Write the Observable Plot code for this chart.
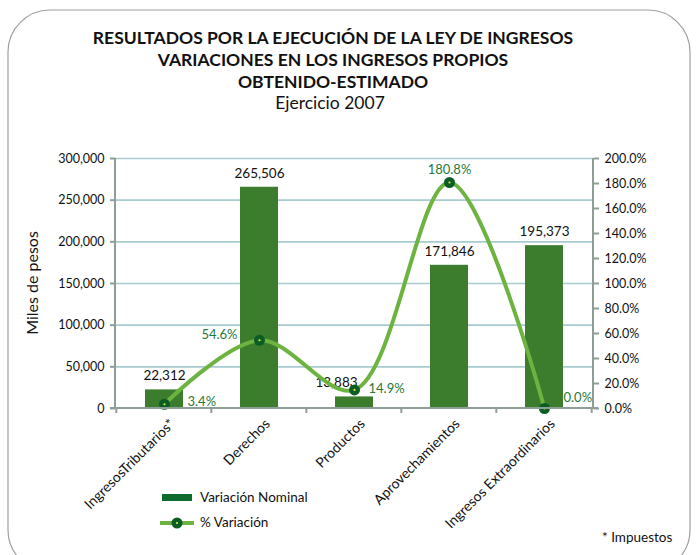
<!DOCTYPE html>
<html><head><meta charset="utf-8">
<script src="https://cdn.jsdelivr.net/npm/d3@7"></script>
<script src="https://cdn.jsdelivr.net/npm/@observablehq/plot@0.6"></script>
<style>html,body{margin:0;padding:0;background:#fff}svg{display:block}</style>
</head><body><div id="chart"></div>
<script>
// ---- data ----
const categories = ["IngresosTributarios*", "Derechos", "Productos", "Aprovechamientos", "Ingresos Extraordinarios"];
const nominal = [22312, 265506, 13883, 171846, 195373];
const pctVariation = [3.4, 54.6, 14.9, 180.8, 0.0];
const leftTicks = [0, 50000, 100000, 150000, 200000, 250000, 300000];
const rightTicks = [0, 20, 40, 60, 80, 100, 120, 140, 160, 180, 200];
const titleLines = ["RESULTADOS POR LA EJECUCIÓN DE LA LEY DE INGRESOS", "VARIACIONES EN LOS INGRESOS PROPIOS", "OBTENIDO-ESTIMADO"];
const subtitle = "Ejercicio 2007";
const yLabel = "Miles de pesos";
const legendLabels = ["Variación Nominal", "% Variación"];
const footnote = "* Impuestos";

// ---- label placement (style, not data) ----
const pctLabelDx = [23, -22, 14, 0, 19];
const pctLabelDy = [-2, -5, -1, -13, -11];
const pctLabelAnchor = ["start", "end", "start", "middle", "start"];
const nomLabelDx = [0, 0, -18, 0, 0];

const PCT_TO_Y = 300000 / 200; // right axis 0–200% maps onto left 0–300,000
const data = categories.map((c, i) => ({cat: c, nominal: nominal[i], pct: pctVariation[i], i}));

const FONT = "Lato, 'Open Sans', sans-serif";
const barColor = "#3b7d2c";
const lineColor = "#6db33f";
const dotColor = "#0b5e23";
const centerColor = "#e6e64c";
const pctColor = "#27783a";
const axisColor = "#8e9e96";
const gridColor = "#a6cbd1";
const fmt = d3.format(",");

const plot = Plot.plot({
  width: 696, height: 555,
  marginLeft: 115, marginRight: 103, marginTop: 158, marginBottom: 147,
  style: {fontFamily: FONT, fontSize: "12.5px", color: "#111", background: "transparent"},
  x: {domain: categories, paddingInner: 0.6, paddingOuter: 0.3, axis: null},
  y: {domain: [0, 300000], axis: null},
  marks: [
    Plot.gridY(leftTicks.slice(1), {stroke: gridColor, strokeWidth: 1.6, strokeOpacity: 1}),
    Plot.barY(data, {x: "cat", y: "nominal", fill: barColor}),
    ...data.map(d => Plot.text([d], {x: "cat", y: "nominal", text: d => fmt(d.nominal), dy: -14, dx: nomLabelDx[d.i], fill: "#111", fontSize: 13.5})),
    Plot.line(data, {x: "cat", y: d => d.pct * PCT_TO_Y, curve: "catmull-rom", stroke: lineColor, strokeWidth: 4}),
    Plot.dot(data, {x: "cat", y: d => d.pct * PCT_TO_Y, r: 5.5, fill: dotColor, stroke: null}),
    Plot.dot(data, {x: "cat", y: d => d.pct * PCT_TO_Y, r: 1.1, fill: centerColor, stroke: null}),
    ...data.map(d => Plot.text([d], {x: "cat", y: d => d.pct * PCT_TO_Y, text: d => d.pct.toFixed(1) + "%",
      dx: pctLabelDx[d.i], dy: pctLabelDy[d.i], textAnchor: pctLabelAnchor[d.i], fill: pctColor, fontSize: 13})),
    Plot.axisY({ticks: leftTicks, anchor: "left", tickFormat: fmt, tickSize: 5, tickPadding: 6, stroke: axisColor, strokeWidth: 2, fill: "#111", fontSize: 12.5, label: null}),
    Plot.axisY({ticks: rightTicks.map(v => v * PCT_TO_Y), anchor: "right", tickFormat: d => (d / PCT_TO_Y).toFixed(1) + "%", tickSize: 5, tickPadding: 6, stroke: axisColor, strokeWidth: 2, fill: "#111", fontSize: 12.5, label: null}),
    Plot.text(categories, {x: d => d, frameAnchor: "bottom", rotate: -45, textAnchor: "end", lineAnchor: "middle", dx: 8, dy: 13, fill: "#111", fontSize: 14})
  ]
});

const svg = d3.select(plot);
const xs = plot.scale("x");
const ys = plot.scale("y");
const x0 = 115, x1 = 696 - 103, yb = 555 - 147;
const step = (x1 - x0) / categories.length;

// axis lines
const g = svg.append("g").attr("stroke", axisColor).attr("stroke-width", 2);
g.append("line").attr("x1", x0).attr("x2", x0).attr("y1", ys.apply(300000)).attr("y2", ys.apply(0));
g.append("line").attr("x1", x1).attr("x2", x1).attr("y1", ys.apply(300000)).attr("y2", ys.apply(0));
g.append("line").attr("x1", x0 - 5).attr("x2", x1 + 5).attr("y1", ys.apply(0)).attr("y2", ys.apply(0));
// category boundary ticks
for (let i = 0; i <= categories.length; i++) {
  const xb = i < categories.length ? xs.apply(categories[i]) - step * 0.3 : xs.apply(categories[i - 1]) + xs.bandwidth + step * 0.3;
  g.append("line").attr("x1", xb).attr("x2", xb).attr("y1", yb).attr("y2", yb + 5);
}

// border
svg.insert("rect", ":first-child").attr("x", 8).attr("y", 10).attr("width", 682).attr("height", 562)
  .attr("rx", 42).attr("fill", "none").attr("stroke", "#a0a0a0").attr("stroke-width", 1.2);

// titles
const t = svg.append("g").attr("font-family", FONT).attr("text-anchor", "middle").attr("fill", "#111");
titleLines.forEach((s, i) => t.append("text").attr("x", 333).attr("y", 44 + i * 22).attr("font-size", 17.5).attr("font-weight", "bold").text(s));
t.append("text").attr("x", 330).attr("y", 109).attr("font-size", 17.5).text(subtitle);

// y label
svg.append("text").attr("transform", "translate(38,283) rotate(-90)").attr("text-anchor", "middle")
  .attr("font-family", FONT).attr("font-size", 16).attr("fill", "#111").text(yLabel);

// legend
const L = svg.append("g").attr("font-family", FONT).attr("font-size", 13.5).attr("fill", "#111").attr("text-anchor", "start");
L.append("rect").attr("x", 162).attr("y", 494).attr("width", 30).attr("height", 7).attr("fill", "#0d6b2e");
L.append("text").attr("x", 200).attr("y", 502).text(legendLabels[0]);
L.append("line").attr("x1", 160).attr("x2", 194).attr("y1", 523).attr("y2", 523).attr("stroke", lineColor).attr("stroke-width", 4);
L.append("circle").attr("cx", 177).attr("cy", 523).attr("r", 5.5).attr("fill", dotColor);
L.append("circle").attr("cx", 177).attr("cy", 523).attr("r", 1.1).attr("fill", centerColor);
L.append("text").attr("x", 200).attr("y", 527).text(legendLabels[1]);
svg.append("text").attr("x", 602).attr("y", 542).attr("text-anchor", "start").attr("font-family", FONT).attr("font-size", 13.5).attr("fill", "#111").text(footnote);

document.getElementById("chart").appendChild(plot);
</script></body></html>
